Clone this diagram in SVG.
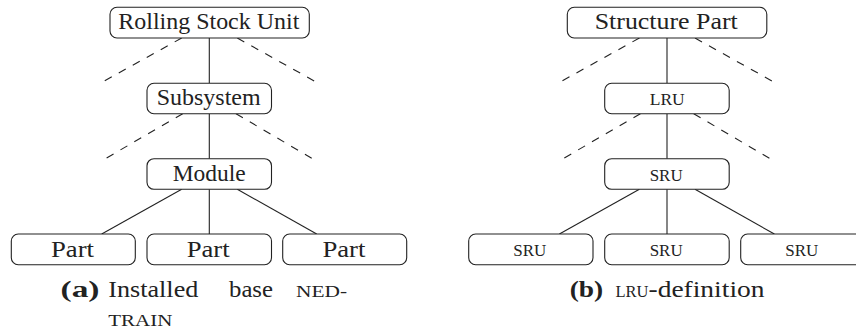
<svg xmlns="http://www.w3.org/2000/svg" width="856" height="332" viewBox="0 0 856 332">
<style>
.box{fill:#fff;stroke:#222;stroke-width:1.1}
.ln{stroke:#222;stroke-width:1.1;fill:none}
.ds{stroke:#222;stroke-width:1.1;fill:none;stroke-dasharray:8 8}
text{font-family:"Liberation Serif","DejaVu Serif",serif;fill:#222}
.t{font-size:23px}
.sc{font-size:16px}
.cap{font-size:24px}
.b{font-weight:bold}
</style>
<rect width="856" height="332" fill="#fff"/>
<g id="connectors">
<line class="ln" x1="209.3" y1="38" x2="209.3" y2="83.3"/>
<line class="ln" x1="209.3" y1="113.7" x2="209.3" y2="158.7"/>
<line class="ln" x1="209.3" y1="189.3" x2="209.3" y2="234"/>
<line class="ln" x1="181.7" y1="189.3" x2="101.7" y2="234"/>
<line class="ln" x1="237.3" y1="189.3" x2="316.7" y2="234"/>
<line class="ds" x1="181.7" y1="38" x2="104.3" y2="81"/>
<line class="ds" x1="237.3" y1="38" x2="314.3" y2="81"/>
<line class="ds" x1="182.7" y1="113.7" x2="106" y2="158.3"/>
<line class="ds" x1="236" y1="113.7" x2="311.7" y2="158.3"/>
<line class="ln" x1="667" y1="38" x2="667" y2="83.3"/>
<line class="ln" x1="667" y1="113.7" x2="667" y2="158.7"/>
<line class="ln" x1="667" y1="189.3" x2="667" y2="234"/>
<line class="ln" x1="639.4" y1="189.3" x2="559.4" y2="234"/>
<line class="ln" x1="695" y1="189.3" x2="774.4" y2="234"/>
<line class="ds" x1="639.4" y1="38" x2="562" y2="81"/>
<line class="ds" x1="695" y1="38" x2="772" y2="81"/>
<line class="ds" x1="640.4" y1="113.7" x2="563.7" y2="158.3"/>
<line class="ds" x1="693.7" y1="113.7" x2="769.4" y2="158.3"/>
</g>
<g id="rolling-stock-unit"><rect class="box" x="110" y="7.3" width="199.3" height="30.7" rx="7"/><text class="t" x="118.3" y="29" textLength="181" lengthAdjust="spacingAndGlyphs">Rolling Stock Unit</text></g>
<g id="subsystem"><rect class="box" x="147" y="83.3" width="124.5" height="30.4" rx="7"/><text class="t" x="156.7" y="105" textLength="104" lengthAdjust="spacingAndGlyphs">Subsystem</text></g>
<g id="module"><rect class="box" x="147" y="158.7" width="124.5" height="30.6" rx="7"/><text class="t" x="172.7" y="181" textLength="73" lengthAdjust="spacingAndGlyphs">Module</text></g>
<g id="part-1"><rect class="box" x="11.3" y="234" width="124" height="30.7" rx="7"/><text class="t" x="51" y="256.5" textLength="43" lengthAdjust="spacingAndGlyphs">Part</text></g>
<g id="part-2"><rect class="box" x="147" y="234" width="124.5" height="30.7" rx="7"/><text class="t" x="186.7" y="256.5" textLength="43" lengthAdjust="spacingAndGlyphs">Part</text></g>
<g id="part-3"><rect class="box" x="282.7" y="234" width="124" height="30.7" rx="7"/><text class="t" x="322.4" y="256.5" textLength="43" lengthAdjust="spacingAndGlyphs">Part</text></g>
<g id="structure-part"><rect class="box" x="567.3" y="7.3" width="199.5" height="30.7" rx="7"/><text class="t" x="594.7" y="29" textLength="143" lengthAdjust="spacingAndGlyphs">Structure Part</text></g>
<g id="lru"><rect class="box" x="604.7" y="83.3" width="124.5" height="30.4" rx="7"/><text class="sc" x="649.7" y="104.5" textLength="35" lengthAdjust="spacingAndGlyphs">LRU</text></g>
<g id="sru"><rect class="box" x="604.7" y="158.7" width="124.5" height="30.6" rx="7"/><text class="sc" x="649.7" y="180.5" textLength="33" lengthAdjust="spacingAndGlyphs">SRU</text></g>
<g id="sru-1"><rect class="box" x="468.7" y="234" width="124.3" height="30.7" rx="7"/><text class="sc" x="513.3" y="256" textLength="33" lengthAdjust="spacingAndGlyphs">SRU</text></g>
<g id="sru-2"><rect class="box" x="604.7" y="234" width="124.5" height="30.7" rx="7"/><text class="sc" x="649.7" y="256" textLength="33" lengthAdjust="spacingAndGlyphs">SRU</text></g>
<g id="sru-3"><rect class="box" x="740.7" y="234" width="124.3" height="30.7" rx="7"/><text class="sc" x="785.3" y="256" textLength="33" lengthAdjust="spacingAndGlyphs">SRU</text></g>
<g id="caption-a">
<text class="cap b" x="60.5" y="297" textLength="39" lengthAdjust="spacingAndGlyphs">(a)</text>
<text class="cap" x="108.3" y="297" textLength="90" lengthAdjust="spacingAndGlyphs">Installed</text>
<text class="cap" x="229" y="297" textLength="44" lengthAdjust="spacingAndGlyphs">base</text>
<text class="sc" x="296" y="297" textLength="51" lengthAdjust="spacingAndGlyphs">NED-</text>
<text class="sc" x="108.3" y="325.5" textLength="64" lengthAdjust="spacingAndGlyphs">TRAIN</text>
</g>
<g id="caption-b">
<text class="cap b" x="569.7" y="297" textLength="33.5" lengthAdjust="spacingAndGlyphs">(b)</text>
<text class="sc" x="615.5" y="297" textLength="33" lengthAdjust="spacingAndGlyphs">LRU</text>
<text class="cap" x="648.5" y="297" textLength="116" lengthAdjust="spacingAndGlyphs">-definition</text>
</g>
</svg>
